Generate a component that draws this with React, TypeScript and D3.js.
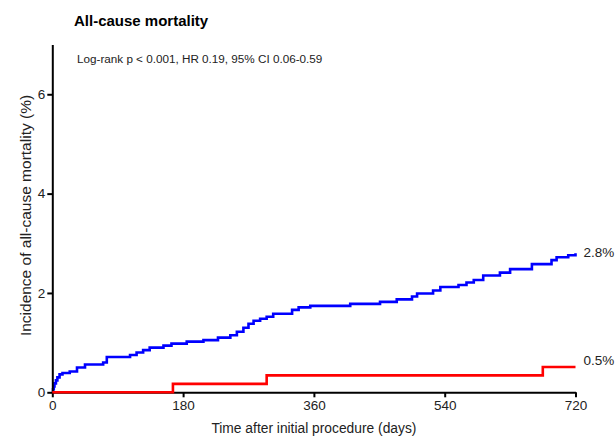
import * as d3 from 'd3';
import React, { useRef, useEffect } from 'react';

const blueDays = [0, 1, 2, 3, 5, 7, 10, 14, 24, 34, 45, 70, 75, 107, 116, 125, 134, 153, 164, 185, 208, 228, 245, 254, 263, 270, 277, 286, 295, 304, 330, 339, 355, 410, 451, 474, 495, 502, 524, 534, 559, 570, 580, 593, 616, 630, 660, 687, 694, 710, 720];
const blueVals = [0, 0.06, 0.12, 0.18, 0.24, 0.3, 0.36, 0.39, 0.42, 0.5, 0.56, 0.6, 0.71, 0.75, 0.8, 0.85, 0.9, 0.94, 0.98, 1.02, 1.05, 1.1, 1.15, 1.22, 1.3, 1.38, 1.44, 1.48, 1.52, 1.58, 1.66, 1.71, 1.74, 1.78, 1.82, 1.87, 1.93, 1.99, 2.05, 2.12, 2.16, 2.21, 2.26, 2.35, 2.41, 2.48, 2.58, 2.66, 2.72, 2.76, 2.8];
const redDays = [0, 166, 295, 675, 720];
const redVals = [0, 0.17, 0.34, 0.51, 0.51];
const xTicks = [0, 180, 360, 540, 720];
const yTicks = [0, 2, 4, 6];

const App = () => {
    const svgRef = useRef<SVGSVGElement>(null);
    useEffect(() => {
        draw();
    }, []);

    const draw = () => {
        const svg = d3.select(svgRef.current);
        svg.selectAll('*').remove();
        const font = 'Liberation Sans, Arial, sans-serif';

        const x = d3.scaleLinear().domain([0, 720]).range([52.3, 575.5]);
        const y = d3.scaleLinear().domain([0, 7]).range([392.3, 44.6]);

        const line = d3.line<[number, number]>()
            .x((d) => x(d[0]))
            .y((d) => y(d[1]))
            .curve(d3.curveStepAfter);

        const blue = blueDays.map((d, i) => [d, blueVals[i]] as [number, number]);
        const red = redDays.map((d, i) => [d, redVals[i]] as [number, number]);

        svg.append('path')
            .attr('d', line(blue))
            .attr('fill', 'none')
            .attr('stroke', '#0000ff')
            .attr('stroke-width', 2.6);

        // axes
        const xAxis = svg.append('g')
            .attr('transform', `translate(0, ${y(0)})`)
            .call(d3.axisBottom(x).tickValues(xTicks).tickFormat(d3.format('d')).tickSize(5).tickPadding(3).tickSizeOuter(0));
        const yAxis = svg.append('g')
            .attr('transform', `translate(${x(0)}, 0)`)
            .call(d3.axisLeft(y).tickValues(yTicks).tickFormat(d3.format('d')).tickSize(5).tickPadding(2).tickSizeOuter(0));
        [xAxis, yAxis].forEach((g) => {
            g.select('.domain').attr('stroke', '#000').attr('stroke-width', 2);
            g.selectAll('.tick line').attr('stroke', '#000').attr('stroke-width', 2);
            g.selectAll('.tick text').attr('fill', '#222').style('font-family', font).style('font-size', '13.5px');
        });

        svg.append('path')
            .attr('d', line(red))
            .attr('fill', 'none')
            .attr('stroke', '#ff0000')
            .attr('stroke-width', 2.6);

        svg.append('text')
            .attr('x', x(720) + 8)
            .attr('y', y(2.8) + 4)
            .style('font-family', font)
            .style('font-size', '13.5px')
            .attr('fill', '#222')
            .text('2.8%');
        svg.append('text')
            .attr('x', x(720) + 8)
            .attr('y', y(0.51) - 2)
            .style('font-family', font)
            .style('font-size', '13.5px')
            .attr('fill', '#222')
            .text('0.5%');

        svg.append('text')
            .attr('x', 74)
            .attr('y', 26)
            .style('font-family', font)
            .style('font-size', '15px')
            .style('font-weight', 'bold')
            .text('All-cause mortality');

        svg.append('text')
            .attr('x', 77)
            .attr('y', 63)
            .style('font-family', font)
            .style('font-size', '11.7px')
            .attr('fill', '#222')
            .text('Log-rank p < 0.001, HR 0.19, 95% CI 0.06-0.59');

        svg.append('text')
            .attr('transform', `translate(31, 215.5) rotate(-90)`)
            .attr('text-anchor', 'middle')
            .style('font-family', font)
            .style('font-size', '15.5px')
            .attr('fill', '#222')
            .text('Incidence of all-cause mortality (%)');

        svg.append('text')
            .attr('x', x(360))
            .attr('y', 433)
            .attr('text-anchor', 'middle')
            .style('font-family', font)
            .style('font-size', '13.8px')
            .attr('fill', '#222')
            .text('Time after initial procedure (days)');
    };

    return (
        <svg ref={svgRef} width={616} height={438} style={{ position: 'absolute', left: 0, top: 0, background: '#fff' }}>
        </svg>
    );
};

export default App;
